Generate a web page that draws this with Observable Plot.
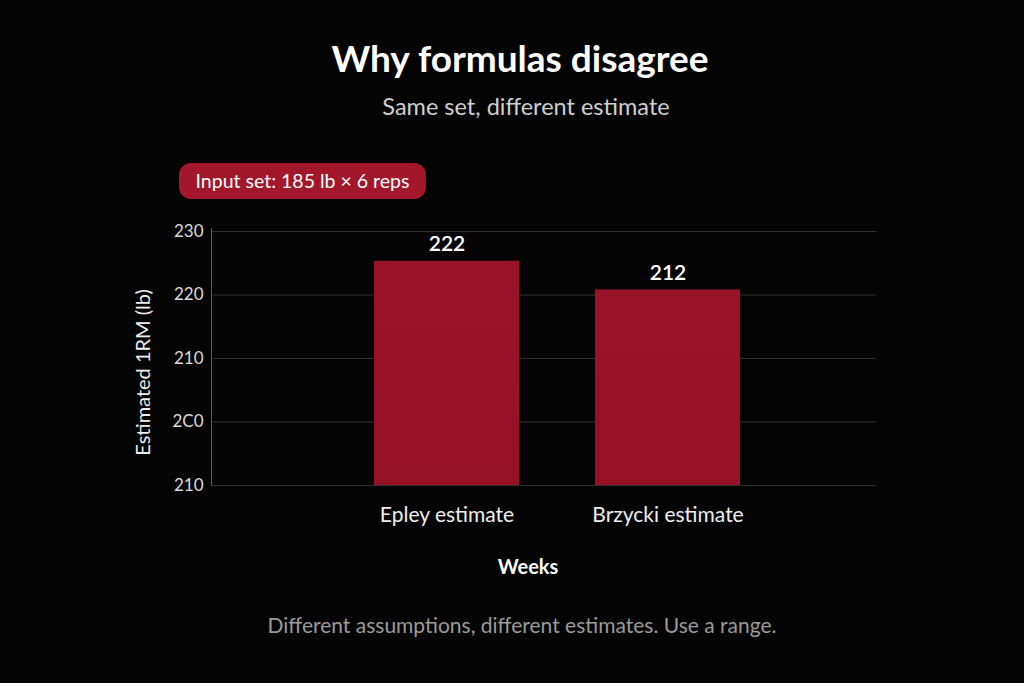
<!DOCTYPE html>
<html><head><meta charset="utf-8">
<script src="https://cdn.jsdelivr.net/npm/d3@7"></script>
<script src="https://cdn.jsdelivr.net/npm/@observablehq/plot@0.6"></script>
<style>
body{margin:0;background:#040404;width:1024px;height:683px;overflow:hidden;font-family:Lato,"Noto Sans",sans-serif;position:relative}
.t{position:absolute;width:1024px;text-align:center}
#title{left:8px;top:35px;font-size:37px;font-weight:700;color:#fff}
#sub{left:14px;top:92px;font-size:23.5px;color:#cfcfcf}
#badge{position:absolute;left:179px;top:163px;width:247px;height:36px;border-radius:12px;background:#a3172b;color:#fff;font-size:19.5px;line-height:36px;text-align:center}
#chart{position:absolute;left:0;top:205px}
#cap{left:10px;top:612px;font-size:21px;color:#9a9a9a}
</style></head><body>
<div id="title" class="t">Why formulas disagree</div>
<div id="sub" class="t">Same set, different estimate</div>
<div id="badge">Input set: 185 lb × 6 reps</div>
<div id="chart"></div>
<div id="cap" class="t">Different assumptions, different estimates. Use a range.</div>
<script>
const categories = ["Epley estimate", "Brzycki estimate"];
const barValues = [225.3, 220.8];
const valueLabels = ["222", "212"];
const yTicks = [190, 200, 210, 220, 230];
const yTickLabels = ["210", "2C0", "210", "220", "230"];
const yLabel = "Estimated 1RM (lb)";
const xLabel = "Weeks";

const data = categories.map((c, i) => ({cat: c, value: barValues[i], label: valueLabels[i]}));

const chart = Plot.plot({
  width: 1024,
  height: 390,
  marginLeft: 211,
  marginRight: 148,
  marginTop: 26,
  marginBottom: 110,
  style: {background: "transparent", color: "#ddd", fontFamily: "Lato, 'Noto Sans', sans-serif"},
  x: {type: "band", domain: categories, range: [263.5, 850.5], paddingInner: 0.344, paddingOuter: 0.5, round: false, label: null},
  y: {domain: [d3.min(yTicks), d3.max(yTicks)], label: null},
  marks: [
    Plot.ruleY(yTicks, {stroke: "#303030", strokeWidth: 1}),
    Plot.frame({anchor: "left", stroke: "#5a5a5a", insetTop: -3}),
    Plot.barY(data, {x: "cat", y: "value", fill: "url(#barGrad)", clip: true}),
    Plot.text(data, {x: "cat", y: "value", text: "label", dy: -17, fill: "#fff", fontSize: 21, fontWeight: 600}),
    Plot.axisY({ticks: yTicks, tickFormat: d => yTickLabels[yTicks.indexOf(d)], tickSize: 0, tickPadding: 8, fontSize: 17, fill: "#dadada", label: null}),
    Plot.axisX({tickSize: 0, tickPadding: 22, fontSize: 21, fill: "#eee", label: null}),
    Plot.text([yLabel], {text: d => d, frameAnchor: "left", textAnchor: "middle", rotate: -90, dx: -68, dy: 14, fontSize: 20, fill: "#eee"}),
    Plot.text([xLabel], {text: d => d, frameAnchor: "bottom", dx: -16, dy: 88, fontSize: 20, fontWeight: 700, fill: "#fff"})
  ]
});

const svg = d3.select(chart);
const defs = svg.insert("defs", ":first-child");
const g = defs.append("linearGradient").attr("id", "barGrad").attr("x1", 0).attr("y1", 0).attr("x2", 0).attr("y2", 1);
g.append("stop").attr("offset", "0%").attr("stop-color", "#981228");
g.append("stop").attr("offset", "100%").attr("stop-color", "#860b1d");
document.getElementById("chart").appendChild(chart);
</script>
</body></html>
